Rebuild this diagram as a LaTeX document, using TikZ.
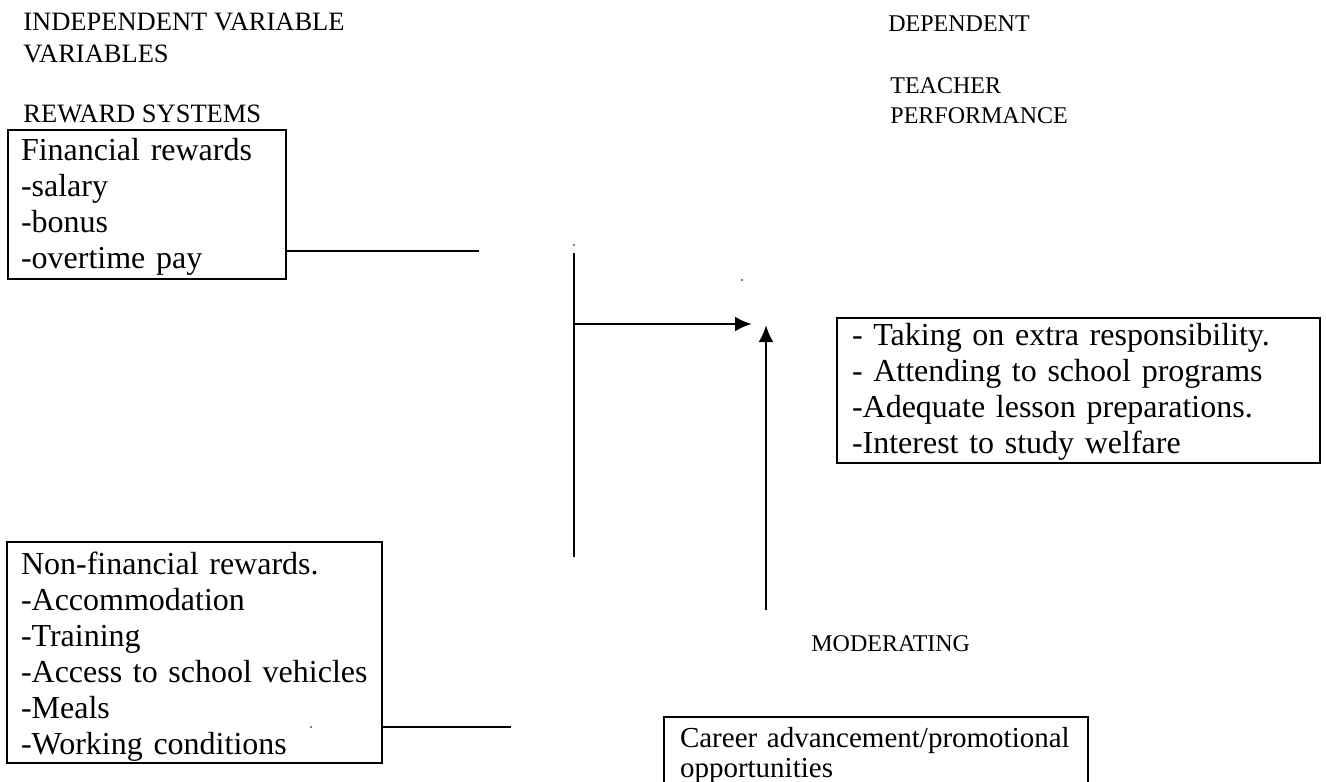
\documentclass[tikz,border=0pt]{standalone}
\usepackage{fontspec}
\setmainfont{Liberation Serif}
\usetikzlibrary{arrows.meta}

\newcommand{\boxtop}[1]{\rule{0pt}{#1}}
\newcommand{\boxbot}[1]{\rule[-#1]{0pt}{#1}}

\tikzset{
  hdr/.style={inner sep=0, anchor=base west, font=\fontsize{26.5}{31}\selectfont},
  hdrr/.style={hdr, font=\fontsize{24}{28}\selectfont},
  varbox/.style={draw, line width=2.8pt, outer sep=0, anchor=north west, align=left,
    inner ysep=0, font=\fontsize{32}{36}\selectfont},
}

\begin{document}
\begin{tikzpicture}[x=1pt, y=-1pt, >={Latex[length=17pt,width=15pt]}, line width=2.8pt]
  \useasboundingbox (0,0) rectangle (1326,782);

  % headings
  \node[hdr] (indep) at (22,30) {INDEPENDENT VARIABLE};
  \node[hdr] (indepb) at (22,62) {VARIABLES};
  \node[hdr] (rewsys) at (22,122) {REWARD SYSTEMS};
  \node[hdrr] (dep) at (887,31) {DEPENDENT};
  \node[hdrr] (teach) at (889,93) {TEACHER};
  \node[hdrr] (perf) at (889,123) {PERFORMANCE};
  \node[hdrr] (mod) at (810,651) {MODERATING};

  % boxes
  \node[varbox, inner xsep=13pt, text width=252pt] (fin) at (8,130)
    {\boxtop{30pt}Financial rewards\\-salary\\-bonus\\-overtime pay\boxbot{11pt}};
  \node[varbox, inner xsep=14pt, text width=347pt] (nonfin) at (7,542)
    {\boxtop{32pt}Non-financial rewards.\\-Accommodation\\-Training\\-Access to school vehicles\\-Meals\\-Working conditions\boxbot{9pt}};
  \node[varbox, inner xsep=15pt, text width=453pt] (perfbox) at (837,318)
    {\boxtop{27pt}- Taking on extra responsibility.\\- Attending to school programs\\-Adequate lesson preparations.\\-Interest to study welfare\boxbot{10pt}};
  \node[varbox, inner xsep=16pt, text width=392pt,
        font=\fontsize{29}{30}\selectfont] (career) at (664,717)
    {\boxtop{30pt}Career advancement/promotional\\opportunities\boxbot{20pt}};

  % connectors
  \coordinate (finend) at (479,251);
  \draw (fin.east |- finend) -- (finend);
  \coordinate (nonend) at (511,727);
  \draw (nonfin.east |- nonend) -- (nonend);

  \coordinate (jtop) at (574,253);
  \coordinate (jbot) at (574,557);
  \draw (jtop) -- (jbot);
  \coordinate (perfin) at (752,324);
  \draw[->] (jtop |- perfin) -- (perfin);

  \coordinate (modtop) at (766,610);
  \coordinate (modtip) at (766,325);
  \draw[->] (modtop) -- (modtip);

  % stray specks
  \fill (574,245) circle (0.8pt);
  \fill (742,280) circle (0.8pt);
  \fill (311,727) circle (0.8pt);
\end{tikzpicture}
\end{document}
